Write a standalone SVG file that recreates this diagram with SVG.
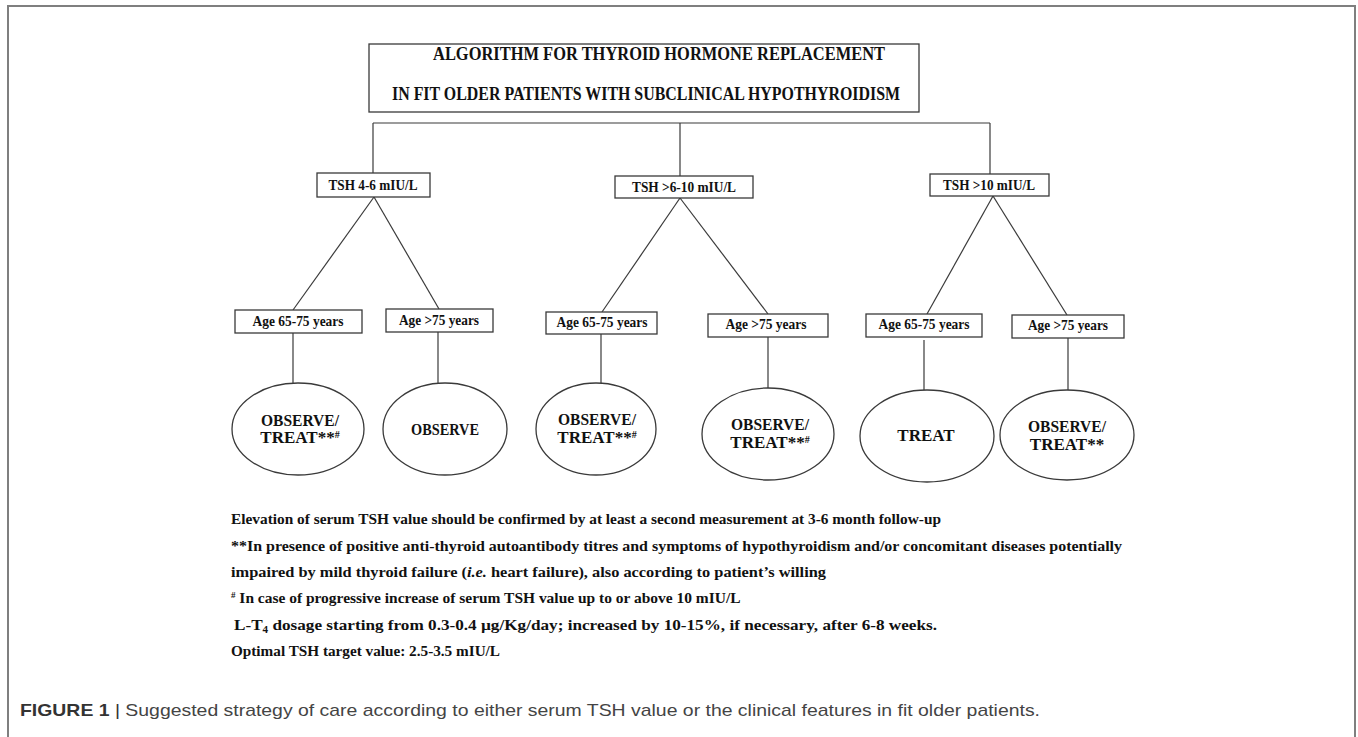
<svg xmlns="http://www.w3.org/2000/svg" width="1358" height="737" viewBox="0 0 1358 737">
<style>
.frame{fill:none;stroke:#7f7f7f;stroke-width:2}
.box{fill:#fff;stroke:#3a3a3a;stroke-width:1.3}
.conn line{stroke:#3a3a3a;stroke-width:1.2}
.t{font-family:"Liberation Serif","Times New Roman",serif;font-weight:bold;fill:#111}
.title{font-size:19px}
.lbl{font-size:15.5px}
.ell{font-size:17px}
.note{font-size:15.5px}
.cap{font-family:"Liberation Sans",Arial,sans-serif;font-size:17px;fill:#444}
</style>
<rect width="1358" height="737" fill="#fff"/>
<path class="frame" d="M8,740 V6 H1355 V740"/>

<g id="title">
<rect class="box" x="369" y="44" width="550" height="68"/>
<text class="t title" x="659" y="60" text-anchor="middle" textLength="452" lengthAdjust="spacingAndGlyphs">ALGORITHM FOR THYROID HORMONE REPLACEMENT</text>
<text class="t title" x="646" y="100" text-anchor="middle" textLength="508" lengthAdjust="spacingAndGlyphs">IN FIT OLDER PATIENTS WITH SUBCLINICAL HYPOTHYROIDISM</text>
</g>

<g id="connectors" class="conn">
<line x1="373" y1="123" x2="990" y2="123"/>
<line x1="373" y1="123" x2="373" y2="173"/>
<line x1="680" y1="123" x2="680" y2="176"/>
<line x1="990" y1="123" x2="990" y2="174"/>
<line x1="374" y1="197" x2="293" y2="310"/>
<line x1="374" y1="197" x2="439" y2="309"/>
<line x1="680" y1="198" x2="602" y2="312"/>
<line x1="680" y1="198" x2="768" y2="314"/>
<line x1="993" y1="196" x2="927" y2="314"/>
<line x1="993" y1="196" x2="1067" y2="315"/>
<line x1="293" y1="333" x2="293" y2="383"/>
<line x1="438" y1="332" x2="438" y2="383"/>
<line x1="601" y1="334" x2="601" y2="383"/>
<line x1="768" y1="337" x2="768" y2="388"/>
<line x1="924" y1="340" x2="924" y2="390"/>
<line x1="1068" y1="338" x2="1068" y2="390"/>
</g>

<g id="tsh1">
<rect class="box" x="317" y="173" width="113" height="24"/>
<text class="t lbl" x="373" y="190" text-anchor="middle" textLength="89" lengthAdjust="spacingAndGlyphs">TSH  4-6 mIU/L</text>
</g>
<g id="tsh2">
<rect class="box" x="615" y="176" width="138" height="22"/>
<text class="t lbl" x="684" y="192" text-anchor="middle" textLength="104" lengthAdjust="spacingAndGlyphs">TSH &gt;6-10 mIU/L</text>
</g>
<g id="tsh3">
<rect class="box" x="930" y="174" width="119" height="22"/>
<text class="t lbl" x="989" y="190" text-anchor="middle" textLength="92" lengthAdjust="spacingAndGlyphs">TSH &gt;10 mIU/L</text>
</g>

<g id="age1">
<rect class="box" x="235" y="310" width="127" height="23"/>
<text class="t lbl" x="298" y="326" text-anchor="middle" textLength="91" lengthAdjust="spacingAndGlyphs">Age 65-75 years</text>
</g>
<g id="age2">
<rect class="box" x="386" y="309" width="107" height="23"/>
<text class="t lbl" x="439" y="325" text-anchor="middle" textLength="80" lengthAdjust="spacingAndGlyphs">Age &gt;75 years</text>
</g>
<g id="age3">
<rect class="box" x="546" y="312" width="111" height="22"/>
<text class="t lbl" x="602" y="327" text-anchor="middle" textLength="91" lengthAdjust="spacingAndGlyphs">Age 65-75 years</text>
</g>
<g id="age4">
<rect class="box" x="708" y="314" width="120" height="23"/>
<text class="t lbl" x="766" y="329" text-anchor="middle" textLength="81" lengthAdjust="spacingAndGlyphs">Age &gt;75 years</text>
</g>
<g id="age5">
<rect class="box" x="866" y="314" width="116" height="23"/>
<text class="t lbl" x="924" y="329" text-anchor="middle" textLength="91" lengthAdjust="spacingAndGlyphs">Age 65-75 years</text>
</g>
<g id="age6">
<rect class="box" x="1012" y="315" width="112" height="23"/>
<text class="t lbl" x="1068" y="330" text-anchor="middle" textLength="80" lengthAdjust="spacingAndGlyphs">Age &gt;75 years</text>
</g>

<g id="out1">
<ellipse class="box" cx="298" cy="429" rx="66" ry="46"/>
<text class="t ell" x="300" y="426" text-anchor="middle" textLength="78" lengthAdjust="spacingAndGlyphs">OBSERVE/</text>
<text class="t ell" x="300" y="443" text-anchor="middle">TREAT**<tspan font-size="10" dy="-5">#</tspan></text>
</g>
<g id="out2">
<ellipse class="box" cx="445" cy="429" rx="62" ry="46"/>
<text class="t ell" x="445" y="435" text-anchor="middle" textLength="68" lengthAdjust="spacingAndGlyphs">OBSERVE</text>
</g>
<g id="out3">
<ellipse class="box" cx="596" cy="429" rx="60" ry="46"/>
<text class="t ell" x="597" y="425" text-anchor="middle" textLength="78" lengthAdjust="spacingAndGlyphs">OBSERVE/</text>
<text class="t ell" x="597" y="443" text-anchor="middle">TREAT**<tspan font-size="10" dy="-5">#</tspan></text>
</g>
<g id="out4">
<ellipse class="box" cx="768" cy="434" rx="66" ry="46"/>
<text class="t ell" x="770" y="430" text-anchor="middle" textLength="78" lengthAdjust="spacingAndGlyphs">OBSERVE/</text>
<text class="t ell" x="770" y="448" text-anchor="middle">TREAT**<tspan font-size="10" dy="-5">#</tspan></text>
</g>
<g id="out5">
<ellipse class="box" cx="927" cy="436" rx="67" ry="46"/>
<text class="t ell" x="926" y="441" text-anchor="middle">TREAT</text>
</g>
<g id="out6">
<ellipse class="box" cx="1067" cy="435" rx="67" ry="45"/>
<text class="t ell" x="1067" y="432" text-anchor="middle" textLength="78" lengthAdjust="spacingAndGlyphs">OBSERVE/</text>
<text class="t ell" x="1067" y="450" text-anchor="middle">TREAT**</text>
</g>

<g id="notes">
<text class="t note" x="231" y="524" textLength="710" lengthAdjust="spacingAndGlyphs">Elevation of  serum TSH value should be confirmed  by at least a second measurement at 3-6 month follow-up</text>
<text class="t note" x="231" y="551" textLength="891" lengthAdjust="spacingAndGlyphs">**In presence of positive anti-thyroid autoantibody titres and symptoms of hypothyroidism and/or concomitant diseases potentially</text>
<text class="t note" x="231" y="577" textLength="595" lengthAdjust="spacingAndGlyphs">impaired by mild thyroid failure (<tspan font-style="italic">i.e.</tspan> heart failure), also according to patient’s willing</text>
<text class="t note" x="231" y="603"><tspan font-size="9" dy="-5">#</tspan><tspan dy="5" textLength="505" lengthAdjust="spacingAndGlyphs"> In case of progressive increase of  serum TSH value up to or above 10 mIU/L</tspan></text>
<text class="t note" x="234" y="630" textLength="703" lengthAdjust="spacingAndGlyphs"> L-T<tspan font-size="10" dy="3">4</tspan><tspan dy="-3"> dosage starting from 0.3-0.4 µg/Kg/day;  increased  by 10-15%, if necessary, after 6-8 weeks.</tspan></text>
<text class="t note" x="231" y="656" textLength="269" lengthAdjust="spacingAndGlyphs">Optimal  TSH target value: 2.5-3.5 mIU/L</text>
</g>

<g id="caption">
<text class="cap" x="20" y="716" textLength="1020" lengthAdjust="spacingAndGlyphs"><tspan font-weight="bold" fill="#333">FIGURE 1</tspan><tspan fill="#333"> | </tspan>Suggested strategy of care according to either serum TSH value or the clinical features in fit older patients.</text>
</g>
</svg>
